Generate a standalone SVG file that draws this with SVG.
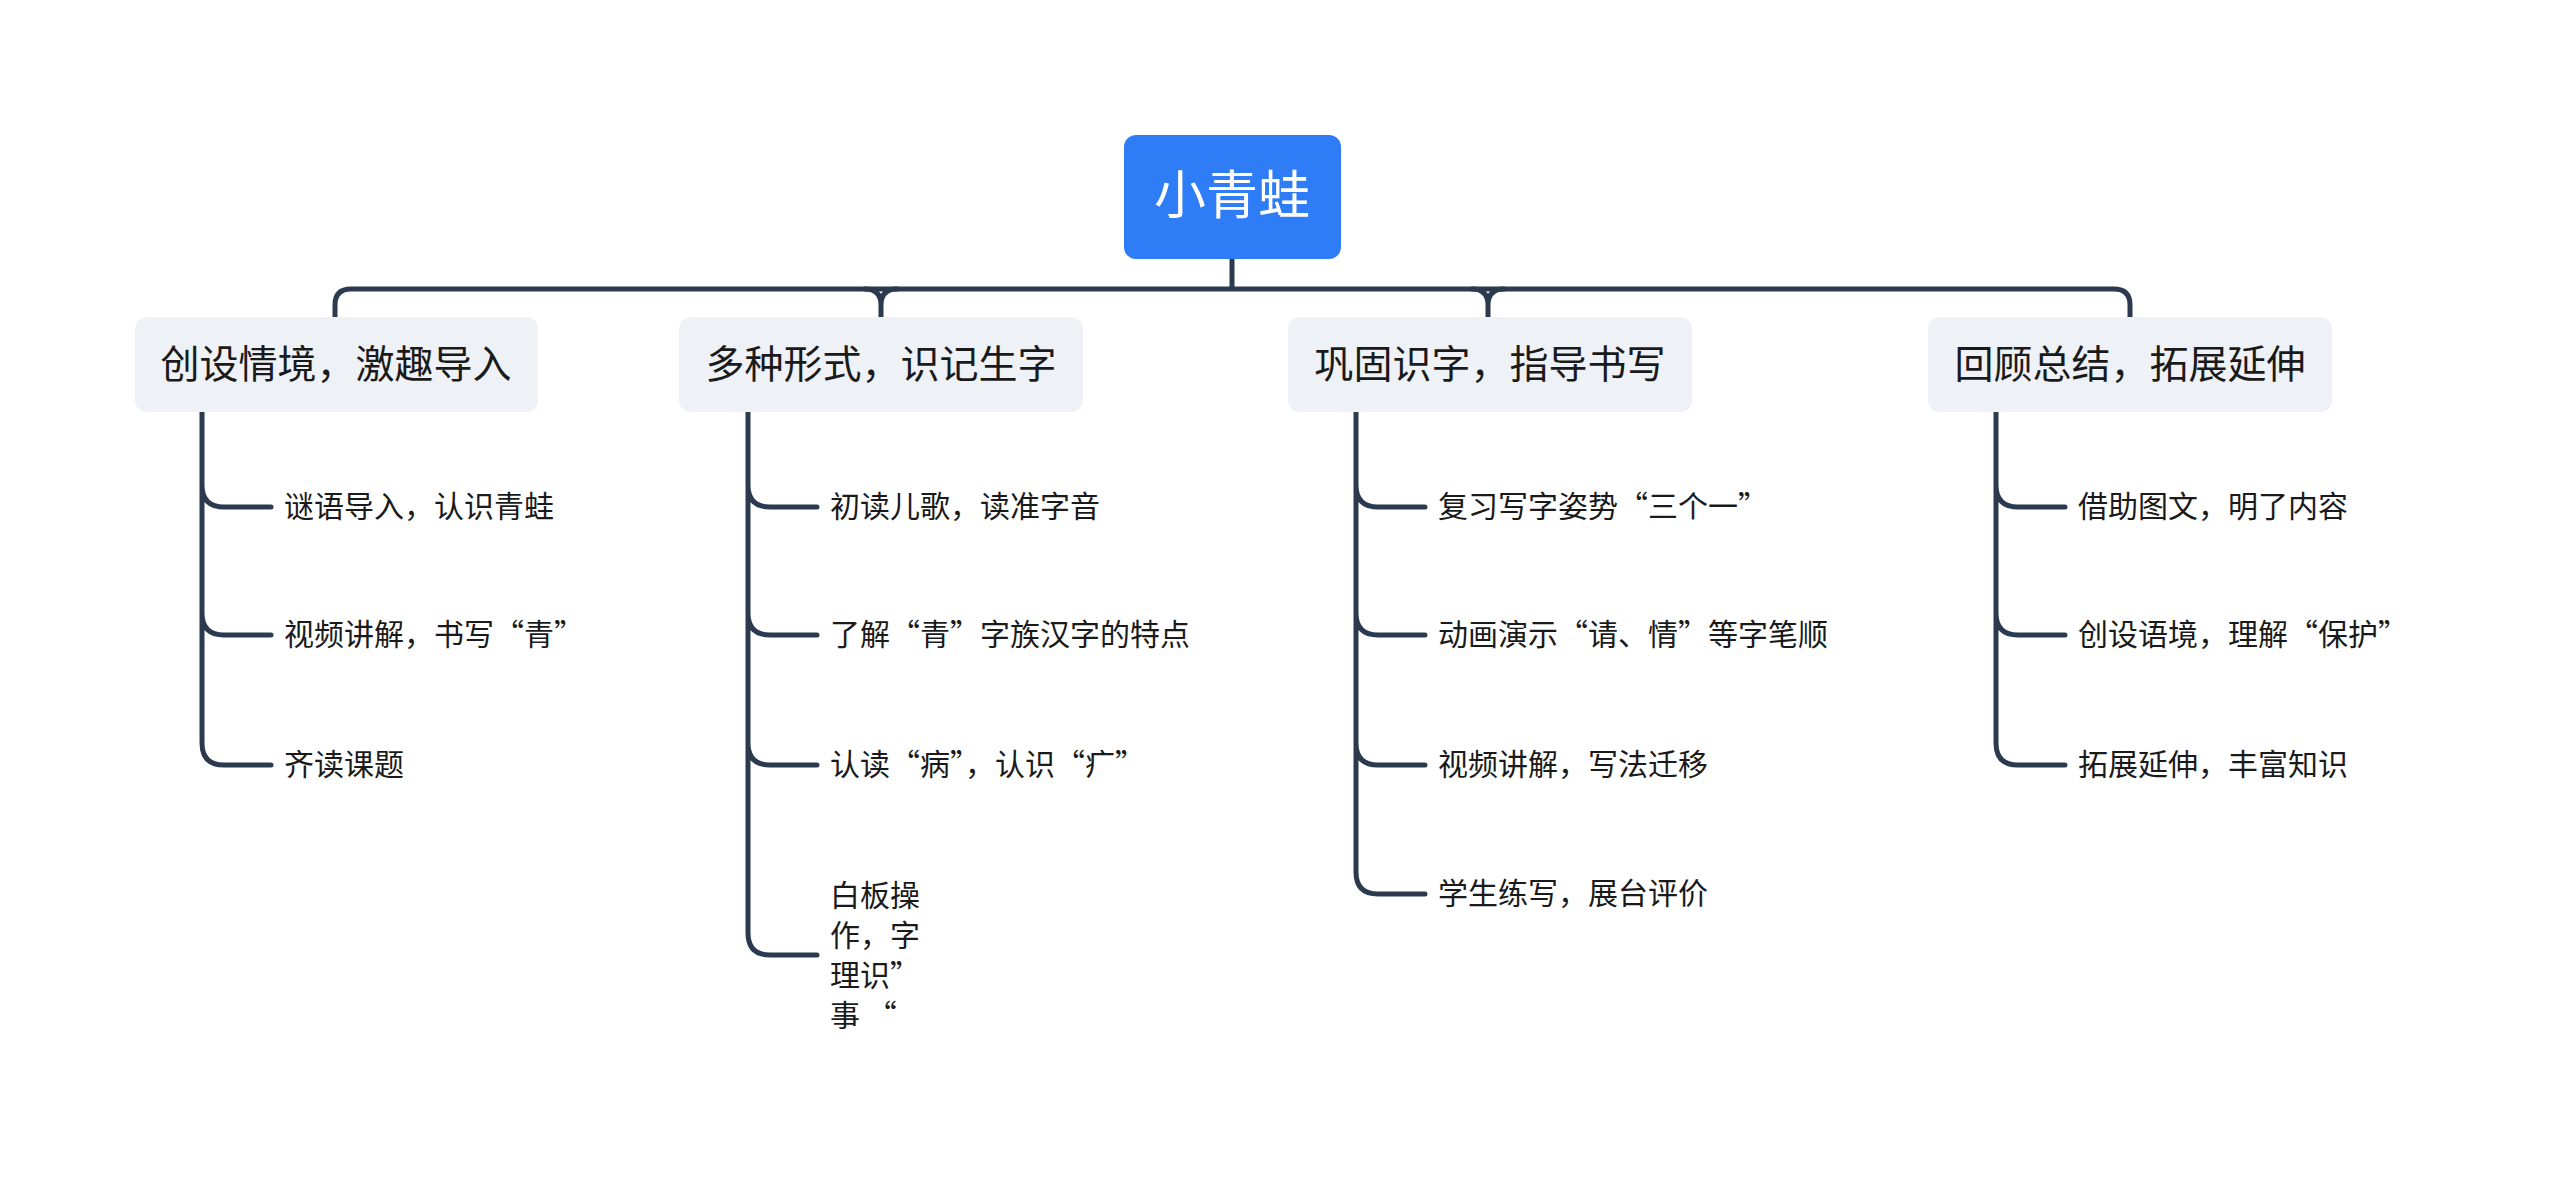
<svg xmlns="http://www.w3.org/2000/svg" width="2560" height="1180" viewBox="0 0 2560 1180">
<style>
.c{fill:none;stroke:#2c3a4f;stroke-width:5;stroke-linecap:round}
.b{fill:#eef1f5}
.t{font-family:"Noto Sans CJK SC","Liberation Sans",sans-serif;fill:#1a1a1a}
.bt{font-size:39px}
.ct{font-size:30px}
</style>
<rect width="2560" height="1180" fill="#fff"/>
<g id="connectors">
<path class="c" d="M1232 259V289M335 317V305Q335 289 351 289H2114Q2130 289 2130 305V317"/>
<path class="c" d="M865 289Q881 289 881 305V317M897 289Q881 289 881 305"/>
<path class="c" d="M1472 289Q1488 289 1488 305V317M1504 289Q1488 289 1488 305"/>
<path class="c" d="M202 412V485Q202 507 224 507H271M202 485V613Q202 635 224 635H271M202 613V743Q202 765 224 765H271"/>
<path class="c" d="M748 412V485Q748 507 770 507H817M748 485V613Q748 635 770 635H817M748 613V743Q748 765 770 765H817M748 743V933Q748 955 770 955H817"/>
<path class="c" d="M1356 412V485Q1356 507 1378 507H1425M1356 485V613Q1356 635 1378 635H1425M1356 613V743Q1356 765 1378 765H1425M1356 743V872Q1356 894 1378 894H1425"/>
<path class="c" d="M1996 412V485Q1996 507 2018 507H2065M1996 485V613Q1996 635 2018 635H2065M1996 613V743Q1996 765 2018 765H2065"/>
</g>
<g id="root"><rect x="1124" y="135" width="217" height="124" rx="12" fill="#2f7df6"/><text class="t" x="1232" y="214" font-size="52" fill="#fff" style="fill:#fff" text-anchor="middle">小青蛙</text></g>
<g id="n1"><rect class="b" x="135" y="317" width="403" height="95" rx="12"/><text class="t bt" x="336" y="378" text-anchor="middle">创设情境，激趣导入</text></g>
<g id="n2"><rect class="b" x="679" y="317" width="404" height="95" rx="12"/><text class="t bt" x="881" y="378" text-anchor="middle">多种形式，识记生字</text></g>
<g id="n3"><rect class="b" x="1288" y="317" width="404" height="95" rx="12"/><text class="t bt" x="1490" y="378" text-anchor="middle">巩固识字，指导书写</text></g>
<g id="n4"><rect class="b" x="1928" y="317" width="404" height="95" rx="12"/><text class="t bt" x="2130" y="378" text-anchor="middle">回顾总结，拓展延伸</text></g>
<g id="c1"><text class="t ct" x="284" y="517">谜语导入，认识青蛙</text></g>
<g id="c2"><text class="t ct" x="284" y="645">视频讲解，书写“青”</text></g>
<g id="c3"><text class="t ct" x="284" y="775">齐读课题</text></g>
<g id="c4"><text class="t ct" x="830" y="517">初读儿歌，读准字音</text></g>
<g id="c5"><text class="t ct" x="830" y="645">了解“青”字族汉字的特点</text></g>
<g id="c6"><text class="t ct" x="830" y="775">认读“病”，认识“疒”</text></g>
<g id="c7"><text class="t ct" x="830" y="906">白板操</text><text class="t ct" x="830" y="946">作，字</text><text class="t ct" x="830" y="986">理识”</text><text class="t ct" x="830" y="1026">事 “</text></g>
<g id="c8"><text class="t ct" x="1438" y="517">复习写字姿势“三个一”</text></g>
<g id="c9"><text class="t ct" x="1438" y="645">动画演示“请、情”等字笔顺</text></g>
<g id="c10"><text class="t ct" x="1438" y="775">视频讲解，写法迁移</text></g>
<g id="c11"><text class="t ct" x="1438" y="904">学生练写，展台评价</text></g>
<g id="c12"><text class="t ct" x="2078" y="517">借助图文，明了内容</text></g>
<g id="c13"><text class="t ct" x="2078" y="645">创设语境，理解“保护”</text></g>
<g id="c14"><text class="t ct" x="2078" y="775">拓展延伸，丰富知识</text></g>
</svg>
